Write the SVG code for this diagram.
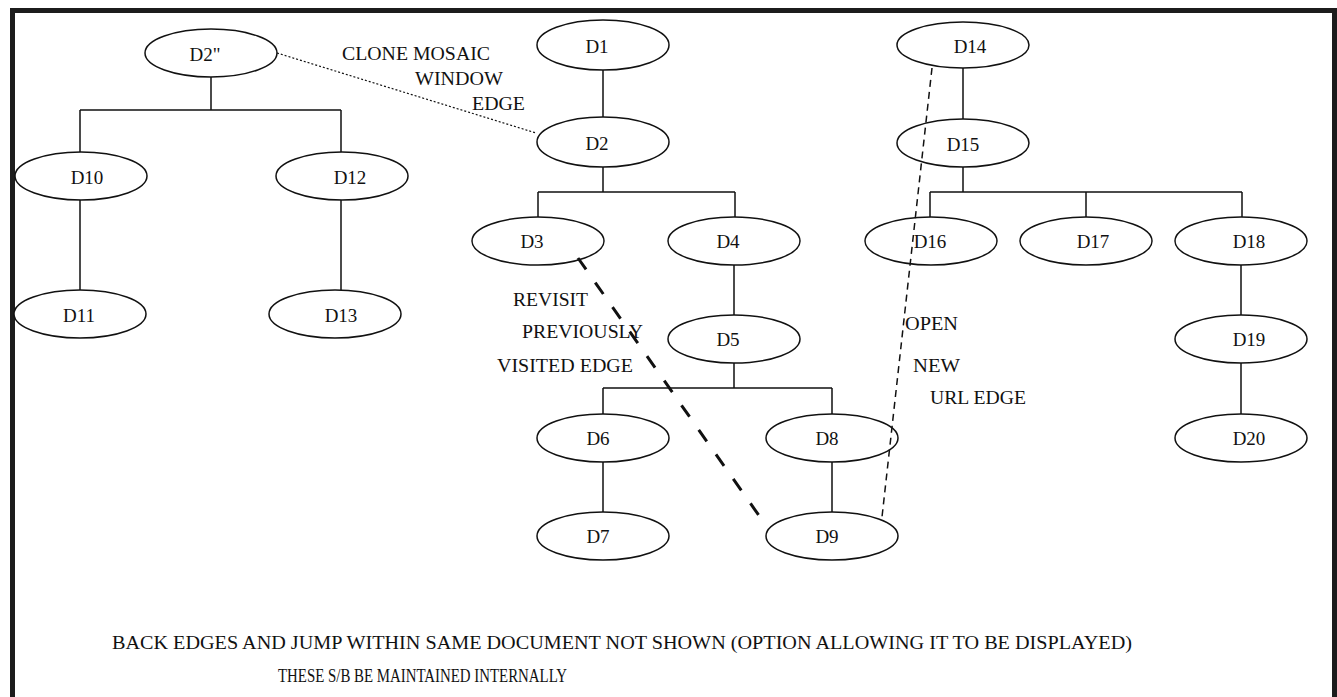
<svg xmlns="http://www.w3.org/2000/svg" width="1337" height="697" viewBox="0 0 1337 697">
<style>
.n ellipse{fill:#fff;stroke:#111;stroke-width:1.5}
text{font-family:"Liberation Serif","Times New Roman",serif;font-size:19px;fill:#111}
.n text{text-anchor:middle}
.t{fill:none;stroke:#111;stroke-width:1.5}
</style>
<rect x="0" y="0" width="1337" height="697" fill="#fff"/>
<rect x="12.5" y="10.5" width="1322" height="700" fill="none" stroke="#1c1c1c" stroke-width="5"/>
<g id="nodes">
<g class="n" id="D2pp"><ellipse cx="211" cy="53" rx="66" ry="24"/><text x="205" y="61">D2"</text></g>
<g class="n" id="D10"><ellipse cx="81" cy="176" rx="66" ry="24"/><text x="87" y="184">D10</text></g>
<g class="n" id="D12"><ellipse cx="342" cy="176" rx="66" ry="24"/><text x="350" y="184">D12</text></g>
<g class="n" id="D11"><ellipse cx="80" cy="314" rx="66" ry="24"/><text x="79" y="322">D11</text></g>
<g class="n" id="D13"><ellipse cx="335" cy="314" rx="66" ry="24"/><text x="341" y="322">D13</text></g>
<g class="n" id="D1"><ellipse cx="603" cy="45" rx="66" ry="25"/><text x="597" y="53">D1</text></g>
<g class="n" id="D2"><ellipse cx="603" cy="142" rx="66" ry="25"/><text x="597" y="150">D2</text></g>
<g class="n" id="D3"><ellipse cx="538" cy="241" rx="66" ry="24"/><text x="532" y="248">D3</text></g>
<g class="n" id="D4"><ellipse cx="734" cy="241" rx="66" ry="24"/><text x="728" y="248">D4</text></g>
<g class="n" id="D5"><ellipse cx="734" cy="339" rx="66" ry="24"/><text x="728" y="346">D5</text></g>
<g class="n" id="D6"><ellipse cx="603" cy="438" rx="66" ry="24"/><text x="598" y="445">D6</text></g>
<g class="n" id="D8"><ellipse cx="832" cy="438" rx="66" ry="24"/><text x="827" y="445">D8</text></g>
<g class="n" id="D7"><ellipse cx="603" cy="536" rx="66" ry="24"/><text x="598" y="543">D7</text></g>
<g class="n" id="D9"><ellipse cx="832" cy="536" rx="66" ry="24"/><text x="827" y="543">D9</text></g>
<g class="n" id="D14"><ellipse cx="963" cy="45" rx="66" ry="23"/><text x="970" y="53">D14</text></g>
<g class="n" id="D15"><ellipse cx="963" cy="143" rx="66" ry="24"/><text x="963" y="151">D15</text></g>
<g class="n" id="D16"><ellipse cx="931" cy="241" rx="66" ry="24"/><text x="930" y="248">D16</text></g>
<g class="n" id="D17"><ellipse cx="1086" cy="241" rx="66" ry="24"/><text x="1093" y="248">D17</text></g>
<g class="n" id="D18"><ellipse cx="1241" cy="241" rx="66" ry="24"/><text x="1249" y="248">D18</text></g>
<g class="n" id="D19"><ellipse cx="1241" cy="339" rx="66" ry="24"/><text x="1249" y="346">D19</text></g>
<g class="n" id="D20"><ellipse cx="1241" cy="438" rx="66" ry="24"/><text x="1249" y="445">D20</text></g>
</g>
<g id="connectors">
<path class="t" d="M211,77V110M80,110H341M80,110V152M341,110V152M80,200V290M341,200V290"/>
<path class="t" d="M603,70V117M603,167V192M538,192H735M538,192V217M735,192V217M734,265V315M734,363V388M603,388H832M603,388V414M832,388V414M603,462V512M832,462V512"/>
<path class="t" d="M963,68V119M963,167V192M930,192H1242M930,192V217M1086,192V217M1242,192V217M1241,265V315M1241,363V414"/>
<line x1="277" y1="53" x2="536" y2="133" stroke="#111" stroke-width="1.2" stroke-dasharray="2,2"/>
<line x1="578" y1="258" x2="767" y2="527" stroke="#111" stroke-width="3" stroke-dasharray="14,16"/>
<line x1="932" y1="68" x2="882" y2="517" stroke="#111" stroke-width="1.5" stroke-dasharray="7,5"/>
</g>
<g id="labels">
<text x="342" y="60" textLength="148" lengthAdjust="spacingAndGlyphs">CLONE MOSAIC</text>
<text x="415" y="85" textLength="88" lengthAdjust="spacingAndGlyphs">WINDOW</text>
<text x="472" y="110" textLength="53" lengthAdjust="spacingAndGlyphs">EDGE</text>
<text x="513" y="306" textLength="75" lengthAdjust="spacingAndGlyphs">REVISIT</text>
<text x="522" y="338" textLength="121" lengthAdjust="spacingAndGlyphs">PREVIOUSLY</text>
<text x="497" y="372" textLength="136" lengthAdjust="spacingAndGlyphs">VISITED EDGE</text>
<text x="905" y="330" textLength="53" lengthAdjust="spacingAndGlyphs">OPEN</text>
<text x="913" y="372" textLength="47" lengthAdjust="spacingAndGlyphs">NEW</text>
<text x="930" y="404" textLength="96" lengthAdjust="spacingAndGlyphs">URL EDGE</text>
<text x="112" y="649" textLength="1020" lengthAdjust="spacingAndGlyphs">BACK EDGES AND JUMP WITHIN SAME DOCUMENT NOT SHOWN (OPTION ALLOWING IT TO BE DISPLAYED)</text>
<text x="278" y="682" textLength="289" lengthAdjust="spacingAndGlyphs">THESE S/B BE MAINTAINED INTERNALLY</text>
</g>
</svg>
